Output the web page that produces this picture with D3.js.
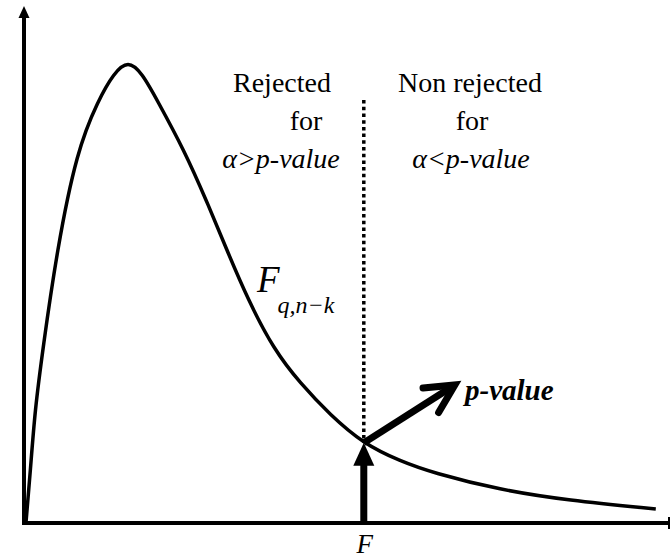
<!DOCTYPE html>
<html>
<head>
<meta charset="utf-8">
<script src="https://cdn.jsdelivr.net/npm/d3@7"></script>
<style>
  html, body { margin: 0; padding: 0; background: #fff; }
  svg { display: block; }
</style>
</head>
<body>
<div id="chart"></div>
<script>
// Density curve (x in F units, y in relative density)
const curveX = [0.03, 0.10, 0.17, 0.29, 0.51, 0.82, 1.15, 1.39, 1.61, 1.83, 2.06, 2.48, 2.82, 3.14, 3.47, 3.87, 4.27, 4.74, 5.26, 5.82, 6.33, 7.37, 8.41, 9.78];
const curveY = [0, 0.103, 0.219, 0.335, 0.528, 0.721, 0.818, 0.870, 0.895, 0.870, 0.818, 0.721, 0.625, 0.528, 0.431, 0.335, 0.271, 0.209, 0.153, 0.120, 0.097, 0.064, 0.044, 0.027];

// Observed statistic and its density
const fValue = 5.26;
const fDensity = 0.155;
const dottedTop = 0.818;

// Where the p-value arrow points
const pArrowTip = [6.67, 0.267];

// Region labels
const leftLabel = ["Rejected", "for", "α>p-value"];
const rightLabel = ["Non rejected", "for", "α<p-value"];

const width = 671;
const height = 559;
const serif = "\"Liberation Serif\"";

const data = curveX.map((x, i) => ({ x: x, y: curveY[i] }));

/*******************************/
/*    Append the containers    */
/*******************************/
const svg = d3.select("#chart")
  .append("svg")
    .attr("width", width)
    .attr("height", height)
    .attr("viewBox", `0 0 ${width} ${height}`);

/****************************/
/*    Declare the scales    */
/****************************/
const xScale = d3.scaleLinear()
  .domain([0, 10])
  .range([24, 670]);

const yScale = d3.scaleLinear()
  .domain([0, 1])
  .range([523, 6]);

/***************************/
/*     Append the axes     */
/***************************/
const x0 = xScale(0);
const y0 = yScale(0);

// Y axis with arrowhead
svg
  .append("line")
    .attr("x1", x0)
    .attr("y1", y0 + 2)
    .attr("x2", x0)
    .attr("y2", yScale(1) + 10)
    .attr("stroke", "#000")
    .attr("stroke-width", 4);
svg
  .append("path")
    .attr("d", `M${x0},${yScale(1)} L${x0 - 5.5},${yScale(1) + 12} L${x0 + 5.5},${yScale(1) + 12} Z`)
    .attr("fill", "#000");

// X axis with end bar
svg
  .append("line")
    .attr("x1", x0 - 2)
    .attr("y1", y0)
    .attr("x2", xScale(10))
    .attr("y2", y0)
    .attr("stroke", "#000")
    .attr("stroke-width", 4);
svg
  .append("line")
    .attr("x1", xScale(10) - 1)
    .attr("y1", y0 - 6)
    .attr("x2", xScale(10) - 1)
    .attr("y2", y0 + 6)
    .attr("stroke", "#000")
    .attr("stroke-width", 2);

/****************************/
/*     Append the curve     */
/****************************/
const lineGenerator = d3.line()
  .x(d => xScale(d.x))
  .y(d => yScale(d.y))
  .curve(d3.curveBasis);

svg
  .append("path")
    .datum(data)
    .attr("d", lineGenerator)
    .attr("fill", "none")
    .attr("stroke", "#000")
    .attr("stroke-width", 3.5)
    .attr("stroke-linejoin", "round");

/*************************************/
/*     Dotted line and the arrows    */
/*************************************/
const fx = xScale(fValue);
const fy = yScale(fDensity);

svg
  .append("line")
    .attr("x1", fx)
    .attr("y1", yScale(dottedTop))
    .attr("x2", fx)
    .attr("y2", fy)
    .attr("stroke", "#000")
    .attr("stroke-width", 3.5)
    .attr("stroke-dasharray", "3.5,3.2");

// Vertical arrow from the axis up to the curve
svg
  .append("line")
    .attr("x1", fx)
    .attr("y1", y0)
    .attr("x2", fx)
    .attr("y2", fy + 20)
    .attr("stroke", "#000")
    .attr("stroke-width", 7);
svg
  .append("path")
    .attr("d", `M${fx},${fy} L${fx - 10.5},${fy + 23} L${fx + 10.5},${fy + 23} Z`)
    .attr("fill", "#000");

// p-value arrow
const tx = xScale(pArrowTip[0]);
const ty = yScale(pArrowTip[1]);
const ang = Math.atan2(ty - fy, tx - fx);
const back = ang + Math.PI;
const armLen = 32;
const spread = 27 * Math.PI / 180;
const arm1 = [tx + armLen * Math.cos(back + spread), ty + armLen * Math.sin(back + spread)];
const arm2 = [tx + armLen * Math.cos(back - spread), ty + armLen * Math.sin(back - spread)];

svg
  .append("line")
    .attr("x1", fx)
    .attr("y1", fy)
    .attr("x2", tx - 2 * Math.cos(ang))
    .attr("y2", ty - 2 * Math.sin(ang))
    .attr("stroke", "#000")
    .attr("stroke-width", 7);
svg
  .append("path")
    .attr("d", `M${arm1[0]},${arm1[1]} L${tx},${ty} L${arm2[0]},${arm2[1]}`)
    .attr("fill", "none")
    .attr("stroke", "#000")
    .attr("stroke-width", 7)
    .attr("stroke-linecap", "round")
    .attr("stroke-linejoin", "miter");

/*************************/
/*     Append labels     */
/*************************/
const lineY = [92, 130, 168];
const leftX = [282, 306, 281];
const rightX = [470, 472, 471];

const addLabel = (lines, xs) => {
  lines.forEach((t, i) => {
    svg
      .append("text")
        .attr("x", xs[i])
        .attr("y", lineY[i])
        .attr("text-anchor", "middle")
        .style("font-family", serif)
        .attr("font-size", 28)
        .attr("font-style", i === 2 ? "italic" : "normal")
        .text(t);
  });
};
addLabel(leftLabel, leftX);
addLabel(rightLabel, rightX);

// Distribution label
const fLabel = svg
  .append("text")
    .attr("x", 257)
    .attr("y", 292)
    .style("font-family", serif)
    .attr("font-style", "italic");
fLabel
  .append("tspan")
    .attr("font-size", 37)
    .text("F");
fLabel
  .append("tspan")
    .attr("font-size", 24)
    .attr("dx", -2)
    .attr("dy", 21)
    .text("q,n−k");

// p-value label
svg
  .append("text")
    .attr("x", 465)
    .attr("y", 400)
    .style("font-family", serif)
    .attr("font-size", 29)
    .attr("font-weight", "bold")
    .attr("font-style", "italic")
    .text("p-value");

// F on the axis
svg
  .append("text")
    .attr("x", fx + 1)
    .attr("y", 553)
    .attr("text-anchor", "middle")
    .style("font-family", serif)
    .attr("font-size", 27)
    .attr("font-style", "italic")
    .text("F");
</script>
</body>
</html>
